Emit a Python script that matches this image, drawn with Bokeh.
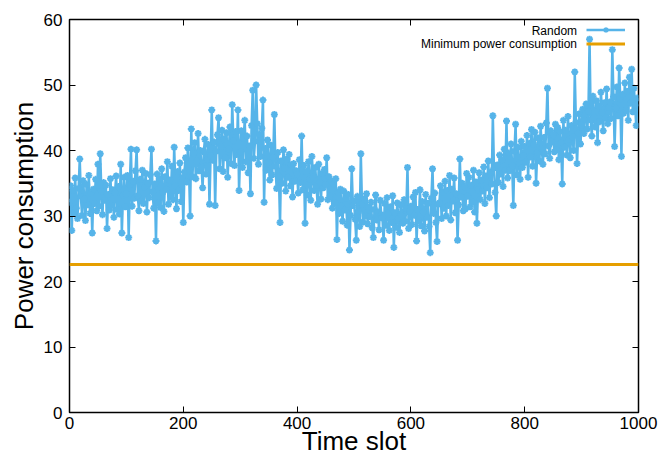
from bokeh.plotting import figure
from bokeh.models import (Range1d, FixedTicker, LinearAxis, Legend, LegendItem, Label)
from bokeh.embed import file_html
from bokeh.resources import INLINE

# ---- data (one reading every 2 time slots) ----
random_power = [
    32.1, 34.6, 27.8, 33.9, 30.5, 35.8, 31.2, 29.6, 34.2, 38.7, 33.0, 30.1, 35.4, 32.6, 29.3, 34.8, 31.7, 36.2, 30.4, 33.5, 27.4, 34.1, 31.9, 35.6, 30.8,
    37.9, 31.5, 39.5, 33.8, 30.2, 35.1, 32.4, 34.7, 28.1, 33.3, 30.9, 35.7, 31.6, 34.0, 29.8, 33.6, 36.1, 31.0, 34.5, 30.3, 37.9, 27.4, 33.2, 35.9, 31.4,
    33.4, 36.2, 26.7, 34.8, 40.2, 31.5, 35.3, 32.7, 36.9, 40.1, 33.1, 30.8, 35.6, 32.3, 37.0, 31.9, 34.4, 36.5, 30.6, 35.0, 32.8, 36.3, 40.2, 33.7, 31.2,
    34.9, 26.2, 36.4, 32.0, 35.7, 31.3, 37.2, 33.6, 30.7, 36.0, 34.1, 38.3, 31.8, 35.5, 33.0, 37.6, 32.5, 40.5, 34.6, 31.1, 36.8, 33.9, 38.1, 32.2, 35.8,
    29.0, 36.7, 38.9, 35.2, 40.4, 37.1, 30.0, 43.3, 36.0, 39.6, 41.2, 35.7, 38.4, 42.6, 36.9, 40.0, 37.5, 34.3, 39.8, 41.7, 36.4, 38.6, 40.9, 31.8, 39.2,
    46.2, 38.5, 41.3, 31.6, 39.9, 42.4, 45.0, 37.2, 40.6, 43.1, 36.8, 41.8, 38.9, 42.7, 35.9, 40.2, 43.6, 38.0, 47.0, 41.5, 37.7, 42.9, 39.4, 46.2, 33.9,
    39.8, 43.0, 37.4, 41.9, 44.6, 38.3, 42.2, 36.6, 40.7, 33.4, 43.8, 49.2, 38.8, 41.4, 50.0, 44.1, 37.9, 42.5, 39.1, 43.4, 47.7, 32.1, 40.3, 37.0, 41.6,
    38.2, 35.5, 40.8, 36.3, 39.0, 45.5, 37.6, 34.2, 39.7, 36.1, 29.0, 38.4, 35.0, 40.1, 37.3, 33.8, 38.7, 35.9, 39.4, 34.6, 37.8, 32.9, 38.0, 35.3, 36.9,
    36.4, 33.5, 38.6, 35.1, 42.2, 34.0, 37.7, 28.9, 36.8, 33.2, 38.3, 35.6, 32.4, 39.1, 36.0, 33.9, 37.4, 34.7, 31.8, 37.9, 35.2, 32.6, 36.5, 34.3, 37.1,
    34.8, 38.9, 32.5, 36.0, 33.1, 35.4, 31.2, 34.9, 32.0, 35.7, 26.4, 33.6, 30.4, 34.1, 31.5, 29.2, 33.8, 30.9, 32.7, 28.6, 33.3, 24.8, 30.1, 37.2, 31.6,
    32.3, 29.5, 26.3, 33.0, 30.7, 28.4, 39.5, 31.8, 29.1, 32.6, 30.0, 33.4, 28.8, 31.3, 29.9, 32.1, 28.2, 26.7, 31.0, 33.2, 29.4, 30.6, 27.9, 32.4, 30.2,
    29.7, 26.3, 31.9, 28.6, 32.8, 30.3, 27.8, 31.4, 29.0, 33.1, 25.2, 30.5, 28.3, 32.0, 29.6, 27.5, 31.7, 30.0, 28.9, 32.5, 29.2, 31.1, 37.4, 28.1, 30.8,
    31.5, 28.7, 32.9, 30.1, 33.6, 26.2, 31.0, 29.3, 34.0, 28.5, 32.2, 30.6, 27.7, 33.3, 29.8, 31.9, 28.4, 24.4, 32.7, 37.2, 30.4, 33.5, 29.0, 26.1, 31.8,
    32.0, 34.6, 29.6, 33.7, 31.2, 35.3, 30.0, 33.9, 31.6, 36.2, 29.4, 34.1, 32.3, 35.8, 30.5, 33.4, 26.3, 31.7, 38.7, 32.9, 35.0, 30.8, 34.4, 31.1, 36.5,
    33.0, 35.9, 31.4, 34.7, 32.1, 37.0, 30.6, 35.2, 28.9, 34.0, 36.6, 32.5, 35.5, 33.8, 37.5, 31.9, 36.1, 34.3, 38.4, 32.8, 36.7, 34.9, 45.3, 37.3, 33.6,
    30.0, 37.8, 35.1, 39.3, 36.4, 38.6, 34.5, 40.2, 37.0, 44.5, 35.8, 39.6, 36.9, 41.0, 37.7, 31.6, 39.9, 44.0, 36.3, 40.5, 38.1, 35.6, 41.4, 37.4, 39.2,
    40.6, 38.2, 42.3, 35.9, 41.1, 39.0, 43.2, 37.6, 40.9, 42.8, 35.0, 39.7, 41.9, 38.4, 43.7, 40.3, 37.9, 42.0, 39.5, 44.2, 49.5, 40.7, 38.8, 43.0, 41.3,
    42.4, 39.8, 44.0, 40.1, 43.5, 38.6, 42.9, 41.2, 34.9, 44.6, 40.5, 43.1, 39.3, 45.2, 41.7, 38.9, 43.8, 42.1, 40.0, 52.0, 44.3, 38.0, 42.7, 45.6, 41.0,
    43.9, 46.3, 42.6, 45.5, 47.1, 43.3, 46.0, 57.0, 44.7, 42.2, 48.3, 45.1, 43.6, 47.6, 41.2, 46.8, 44.4, 48.9, 45.8, 43.0, 47.3, 45.0, 49.4, 44.1, 46.6,
    47.4, 44.9, 55.4, 48.2, 40.6, 46.5, 49.7, 45.3, 52.6, 47.9, 39.1, 48.6, 45.7, 50.3, 46.1, 49.0, 44.6, 51.2, 47.2, 52.4, 45.9, 49.5, 46.9, 43.8, 48.0,
]
time_slot = list(range(0, 2 * len(random_power), 2))
min_power = 22.6
x_ticks = [0, 200, 400, 600, 800, 1000]
y_ticks = [0, 10, 20, 30, 40, 50, 60]

BLUE = "#56B4E9"
ORANGE = "#E69F00"
FONT = "Liberation Sans"

p = figure(width=662, height=461, output_backend="svg", toolbar_location=None,
           x_range=Range1d(0, 1000), y_range=Range1d(0, 60),
           min_border_left=69, min_border_right=24, min_border_top=19, min_border_bottom=49)
p.xgrid.visible = False
p.ygrid.visible = False
p.outline_line_color = "black"
p.outline_line_width = 1.5
p.outline_line_alpha = 1.0
p.background_fill_color = "white"
p.border_fill_color = "white"

# data
r_line = p.line(time_slot, random_power, line_color=BLUE, line_width=2.5)
r_pts = p.scatter(time_slot, random_power, marker="asterisk", size=7, line_color=BLUE, line_width=2)
r_min = p.line([x_ticks[0], x_ticks[-1]], [min_power, min_power], line_color=ORANGE, line_width=3)

# axes
for ax in p.xaxis + p.yaxis:
    ax.axis_line_color = None
    ax.major_tick_in = 6
    ax.major_tick_out = 0
    ax.minor_tick_in = 0
    ax.minor_tick_out = 0
    ax.major_tick_line_color = "black"
    ax.major_label_text_font = FONT
    ax.major_label_text_font_size = "17px"
    ax.major_label_text_color = "black"
    ax.axis_label_text_font = FONT
    ax.axis_label_text_font_size = "26px"
    ax.axis_label_text_font_style = "normal"
    ax.axis_label_text_color = "black"

p.xaxis.ticker = FixedTicker(ticks=x_ticks)
p.yaxis.ticker = FixedTicker(ticks=y_ticks)
p.xaxis.axis_label = "Time slot"
p.yaxis.axis_label = "Power consumption"
p.xaxis.major_label_standoff = 4
p.xaxis.axis_label_standoff = -6
p.yaxis.major_label_standoff = 7
p.yaxis.axis_label_standoff = 2

# mirrored ticks on top and right
top = LinearAxis(ticker=FixedTicker(ticks=x_ticks), axis_line_color=None,
                 major_tick_in=6, major_tick_out=0, minor_tick_in=0, minor_tick_out=0,
                 major_label_overrides={t: "" for t in x_ticks})
right = LinearAxis(ticker=FixedTicker(ticks=y_ticks), axis_line_color=None,
                   major_tick_in=6, major_tick_out=0, minor_tick_in=0, minor_tick_out=0,
                   major_label_overrides={t: "" for t in y_ticks})
p.add_layout(top, "above")
p.add_layout(right, "right")

# legend (gnuplot style: text at left, sample at right)
legend = Legend(items=[LegendItem(label=" ", renderers=[r_line, r_pts]),
                       LegendItem(label=" ", renderers=[r_min])],
                location=(517, 362), orientation="vertical",
                glyph_width=39, glyph_height=13, label_height=13, label_width=1,
                label_standoff=0, spacing=1, padding=0, margin=0,
                border_line_color=None, background_fill_alpha=0,
                label_text_font_size="12px")
p.add_layout(legend, "center")

p.add_layout(Label(x=892, y=58.25, text="Random", text_align="right", text_baseline="middle",
                   text_font=FONT, text_font_size="12px", text_color="black"))
p.add_layout(Label(x=892, y=56.2, text="Minimum power consumption", text_align="right",
                   text_baseline="middle", text_font=FONT, text_font_size="12px", text_color="black"))

open("out.html", "w").write(file_html(p, INLINE))
